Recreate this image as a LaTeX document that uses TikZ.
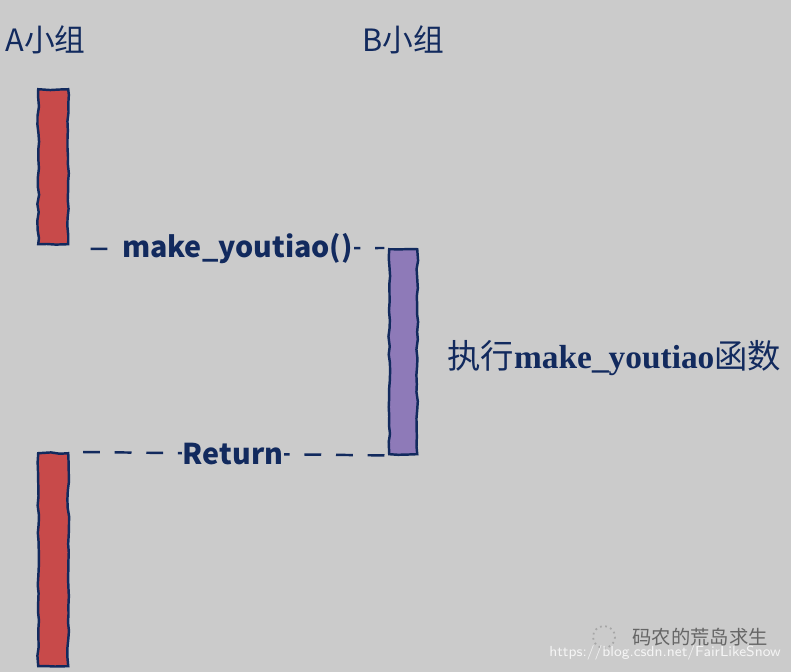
\documentclass[tikz,border=0pt]{standalone}
\usepackage{fontspec}
\setmainfont{Noto Sans CJK SC}
\newfontfamily\serifbf{Liberation Serif}
\usetikzlibrary{decorations.pathmorphing}
\definecolor{fundo}{RGB}{203,203,203}
\definecolor{tinta}{RGB}{18,42,94}
\definecolor{vermelho}{RGB}{200,74,74}
\definecolor{roxo}{RGB}{142,122,184}
\tikzset{
  barra/.style={draw=tinta, line width=1.4pt, anchor=north west, inner sep=0pt,
    minimum width=0.6cm, decorate,
    decoration={random steps, segment length=5pt, amplitude=0.5pt}},
  grupo/.style={text=tinta, font=\fontsize{17.5}{19}\selectfont, anchor=west, inner sep=0pt},
  msg/.style={draw=tinta, line width=1.4pt, dash pattern=on 9.6pt off 8.4pt},
  rotulo/.style={fill=fundo, text=tinta, inner sep=0.5pt,
    font=\fontsize{16.3}{18}\selectfont\bfseries}
}
\pgfmathsetseed{7}
\begin{document}
\begin{tikzpicture}[x=0.02cm, y=-0.02cm]
    % Fundo
    \fill[fundo] (0,0) rectangle (791,672);
    \useasboundingbox (0,0) rectangle (791,672);

    % Grupos
    \node[grupo] (ga) at (5,40) {A小组};
    \node[grupo] (gb) at (362,40) {B小组};

    % Barras
    \node[barra, fill=vermelho, minimum height=3.1cm] (a1) at (37,88) {};
    \node[barra, fill=vermelho, minimum height=4.26cm] (a2) at (37,452) {};
    \node[barra, fill=roxo, minimum width=0.56cm, minimum height=4.1cm] (b) at (388,248) {};

    % Mensagens
    \draw[msg] ([xshift=12pt,yshift=-2pt]a1.south east) -- node[rotulo] (chamada) {make\_youtiao()} ([xshift=-2pt]b.north west);
    \draw[msg] ([xshift=-2pt]b.south west) -- node[rotulo] (retorno) {Return} ([xshift=7pt]a2.north east);

    \node[text=tinta, anchor=west, inner sep=0pt, font=\fontsize{19}{21}\selectfont] (exec) at (447,358)
      {执行{\serifbf\bfseries make\_youtiao}函数};

    % Marca d'agua
    \draw[gray!70, dotted, line width=1pt] (604,637) circle (11);
    \node[text=gray!80!black, anchor=east, inner sep=0pt, font=\fontsize{11}{13}\selectfont] (marca) at (768,637) {码农的荒岛求生};
    \node[text=white!92!gray, anchor=east, inner sep=0pt, font=\fontsize{8.3}{10}\selectfont] (url) at (781,653) {\sffamily https://blog.csdn.net/FairLikeSnow};
\end{tikzpicture}
\end{document}
